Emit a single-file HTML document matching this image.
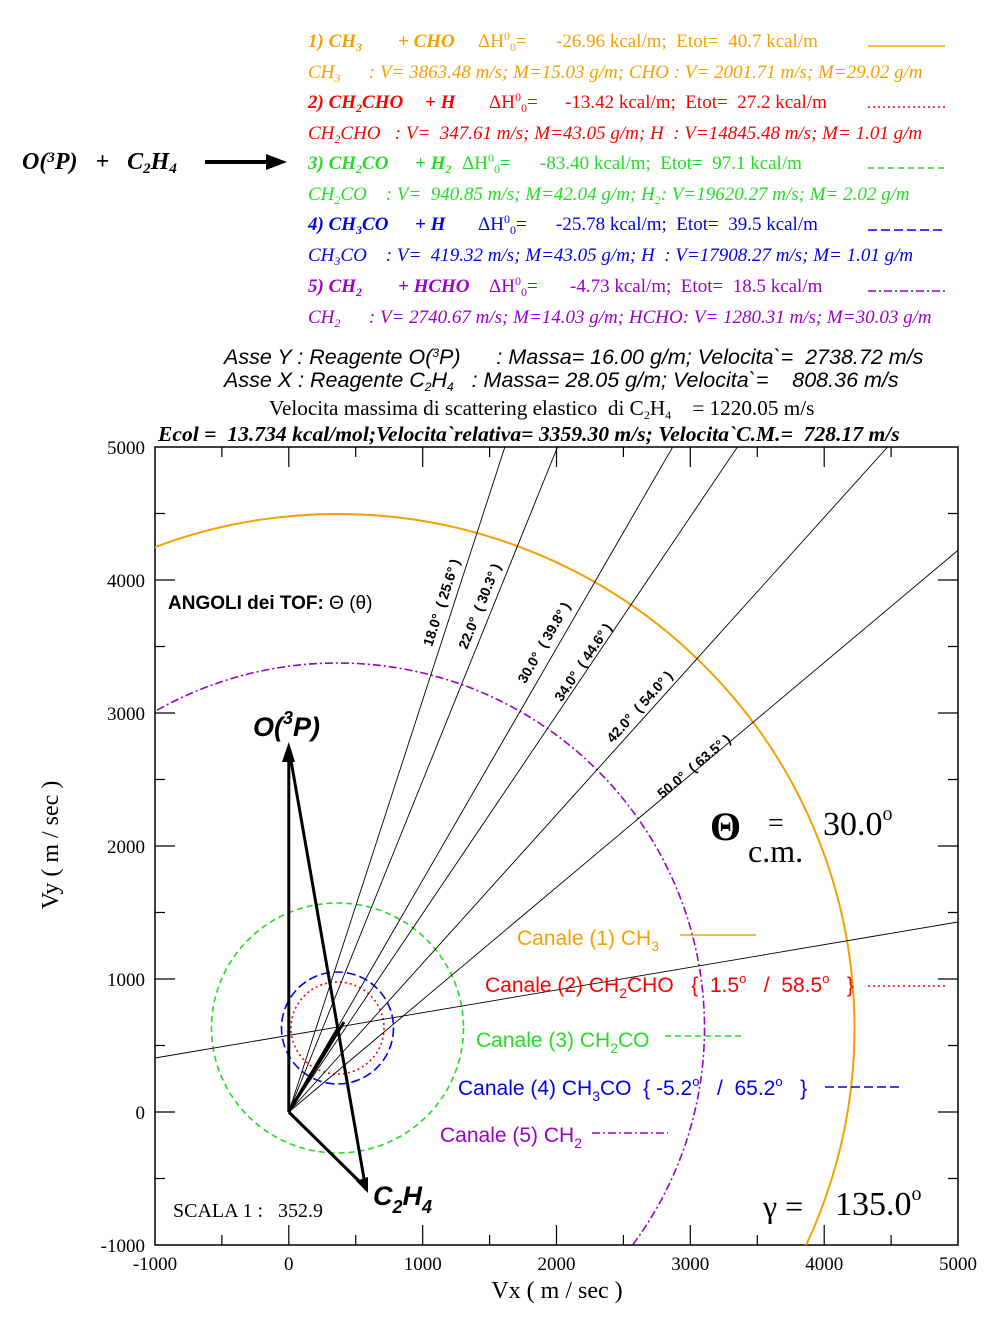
<!DOCTYPE html>
<html><head><meta charset="utf-8">
<style>
html,body{margin:0;background:#fff;width:1000px;height:1323px;overflow:hidden}
body{position:relative;font-family:"Liberation Serif",serif}
.t{position:absolute;font-style:italic;font-size:19px;white-space:nowrap;line-height:1}
.n{font-style:normal}
.b{font-weight:bold}
sub{font-size:12px;vertical-align:-4px;line-height:0}
sup{font-size:12px;vertical-align:7px;line-height:0}
.o{color:#f5a000}.r{color:#ff0000}.g{color:#22dd22}.bl{color:#0000ee}.p{color:#9900cc}
.s{position:absolute;white-space:nowrap;line-height:1;font-family:"Liberation Sans",sans-serif;font-style:italic;font-size:21.5px}
</style></head><body>
<div class="t b o" style="left:308px;top:32px">1) CH<sub>3</sub></div>
<div class="t b o" style="left:398px;top:32px">+ CHO</div>
<div class="t n o" style="left:478px;top:32px">ΔH<sup>0</sup><sub>0</sub>=</div>
<div class="t n o" style="left:556px;top:32px">-26.96 kcal/m;&nbsp; Etot=&nbsp; 40.7 kcal/m</div>
<div class="t o" style="left:308px;top:63px">CH<sub>3</sub>&nbsp;&nbsp;&nbsp;&nbsp;&nbsp;&nbsp;: V= 3863.48 m/s; M=15.03 g/m; CHO : V= 2001.71 m/s; M=29.02 g/m</div>
<div class="t b r" style="left:308px;top:93px">2) CH<sub>2</sub>CHO</div>
<div class="t b r" style="left:425px;top:93px">+ H</div>
<div class="t n r" style="left:489px;top:93px">ΔH<sup>0</sup><sub>0</sub>=</div>
<div class="t n r" style="left:565px;top:93px">-13.42 kcal/m;&nbsp; Etot=&nbsp; 27.2 kcal/m</div>
<div class="t r" style="left:308px;top:124px">CH<sub>2</sub>CHO&nbsp;&nbsp;&nbsp;: V=&nbsp; 347.61 m/s; M=43.05 g/m; H&nbsp;&nbsp;: V=14845.48 m/s; M= 1.01 g/m</div>
<div class="t b g" style="left:308px;top:154px">3) CH<sub>2</sub>CO</div>
<div class="t b g" style="left:415px;top:154px">+ H<sub>2</sub></div>
<div class="t n g" style="left:462px;top:154px">ΔH<sup>0</sup><sub>0</sub>=</div>
<div class="t n g" style="left:540px;top:154px">-83.40 kcal/m;&nbsp; Etot=&nbsp; 97.1 kcal/m</div>
<div class="t g" style="left:308px;top:185px">CH<sub>2</sub>CO&nbsp;&nbsp;&nbsp;&nbsp;: V=&nbsp; 940.85 m/s; M=42.04 g/m; H<sub>2</sub>: V=19620.27 m/s; M= 2.02 g/m</div>
<div class="t b bl" style="left:308px;top:215px">4) CH<sub>3</sub>CO</div>
<div class="t b bl" style="left:415px;top:215px">+ H</div>
<div class="t n bl" style="left:478px;top:215px">ΔH<sup>0</sup><sub>0</sub>=</div>
<div class="t n bl" style="left:556px;top:215px">-25.78 kcal/m;&nbsp; Etot=&nbsp; 39.5 kcal/m</div>
<div class="t bl" style="left:308px;top:246px">CH<sub>3</sub>CO&nbsp;&nbsp;&nbsp;&nbsp;: V=&nbsp; 419.32 m/s; M=43.05 g/m; H&nbsp;&nbsp;: V=17908.27 m/s; M= 1.01 g/m</div>
<div class="t b p" style="left:308px;top:277px">5) CH<sub>2</sub></div>
<div class="t b p" style="left:398px;top:277px">+ HCHO</div>
<div class="t n p" style="left:489px;top:277px">ΔH<sup>0</sup><sub>0</sub>=</div>
<div class="t n p" style="left:570px;top:277px">-4.73 kcal/m;&nbsp; Etot=&nbsp; 18.5 kcal/m</div>
<div class="t p" style="left:308px;top:308px">CH<sub>2</sub>&nbsp;&nbsp;&nbsp;&nbsp;&nbsp;&nbsp;: V= 2740.67 m/s; M=14.03 g/m; HCHO: V= 1280.31 m/s; M=30.03 g/m</div>

<div class="t b" style="left:22px;top:150px;font-size:24px">O(<sup style="font-size:15px">3</sup>P)&nbsp;&nbsp;&nbsp;+&nbsp;&nbsp;&nbsp;C<sub style="font-size:15px">2</sub>H<sub style="font-size:15px">4</sub></div>

<div class="s" style="left:224px;top:347px">Asse Y : Reagente O(<sup>3</sup>P)&nbsp;&nbsp;&nbsp;&nbsp;&nbsp;&nbsp;: Massa= 16.00 g/m; Velocita`=&nbsp; 2738.72 m/s</div>
<div class="s" style="left:224px;top:370px">Asse X : Reagente C<sub>2</sub>H<sub>4</sub>&nbsp;&nbsp;&nbsp;: Massa= 28.05 g/m; Velocita`=&nbsp;&nbsp;&nbsp; 808.36 m/s</div>
<div class="t n" style="left:269px;top:398px;font-size:21.2px">Velocita massima di scattering elastico&nbsp; di C<sub>2</sub>H<sub>4</sub>&nbsp;&nbsp;&nbsp; = 1220.05 m/s</div>
<div class="t b" style="left:158px;top:424px;font-size:21.6px">Ecol =&nbsp; 13.734 kcal/mol;Velocita`relativa= 3359.30 m/s; Velocita`C.M.=&nbsp; 728.17 m/s</div>

<svg width="1000" height="1323" style="position:absolute;left:0;top:0;display:block" font-family="Liberation Serif,serif">
<defs><clipPath id="c"><rect x="155" y="447" width="803" height="798"/></clipPath></defs>
<line x1="205" y1="162" x2="272" y2="162" stroke="#000" stroke-width="4"/>
<path d="M266,154 L287,162 L266,170 z"/>
<line x1="868" y1="46" x2="945" y2="46" stroke="#f5a000" stroke-width="1.5"/>
<line x1="868" y1="107" x2="945" y2="107" stroke="#f00" stroke-width="1.5" stroke-dasharray="2,3"/>
<line x1="868" y1="168" x2="945" y2="168" stroke="#22dd22" stroke-width="1.5" stroke-dasharray="6,4"/>
<line x1="868" y1="230" x2="945" y2="230" stroke="#00e" stroke-width="1.5" stroke-dasharray="9,4"/>
<line x1="868" y1="291" x2="945" y2="291" stroke="#90c" stroke-width="1.5" stroke-dasharray="8,3,2,3"/>
<rect x="155" y="447" width="803" height="798" fill="none" stroke="#000" stroke-width="1.5"/>
<g stroke="#000" stroke-width="1.2">
<path d="M288.8,1245v-20M422.7,1245v-20M556.5,1245v-20M690.3,1245v-20M824.2,1245v-20M288.8,447v20M422.7,447v20M556.5,447v20M690.3,447v20M824.2,447v20
M221.9,1245v-10M355.7,1245v-10M489.6,1245v-10M623.4,1245v-10M757.3,1245v-10M891.1,1245v-10M221.9,447v10M355.7,447v10M489.6,447v10M623.4,447v10M757.3,447v10M891.1,447v10
M155,1112h20M155,979h20M155,846h20M155,713h20M155,580h20M958,1112h-20M958,979h-20M958,846h-20M958,713h-20M958,580h-20
M155,1178.5h10M155,1045.5h10M155,912.5h10M155,779.5h10M155,646.5h10M155,513.5h10M958,1178.5h-10M958,1045.5h-10M958,912.5h-10M958,779.5h-10M958,646.5h-10M958,513.5h-10"/>
</g>
<g font-size="19" text-anchor="middle">
<text x="155" y="1270">-1000</text><text x="288.8" y="1270">0</text><text x="422.7" y="1270">1000</text><text x="556.5" y="1270">2000</text><text x="690.3" y="1270">3000</text><text x="824.2" y="1270">4000</text><text x="958" y="1270">5000</text>
</g>
<g font-size="19" text-anchor="end">
<text x="145" y="454">5000</text><text x="145" y="587">4000</text><text x="145" y="720">3000</text><text x="145" y="853">2000</text><text x="145" y="986">1000</text><text x="145" y="1119">0</text><text x="145" y="1252">-1000</text>
</g>
<text x="557" y="1298" font-size="24" text-anchor="middle">Vx ( m / sec )</text>
<text transform="translate(58,845) rotate(-90)" font-size="24" text-anchor="middle">Vy ( m / sec )</text>

<g clip-path="url(#c)" fill="none">
<ellipse cx="337.5" cy="1028" rx="517" ry="514" stroke="#f5a000" stroke-width="2"/>
<ellipse cx="337.5" cy="1028" rx="367" ry="365" stroke="#90c" stroke-width="1.6" stroke-dasharray="8,3,2,3"/>
<ellipse cx="337.5" cy="1028" rx="126" ry="125" stroke="#22dd22" stroke-width="1.6" stroke-dasharray="6,4"/>
<ellipse cx="337.5" cy="1028" rx="56" ry="56" stroke="#00e" stroke-width="1.6" stroke-dasharray="9,4"/>
<ellipse cx="337.5" cy="1028" rx="46.5" ry="46" stroke="#f00" stroke-width="1.6" stroke-dasharray="2,3"/>
<g stroke="#000" stroke-width="0.9">
<line x1="288.8" y1="1112" x2="504.9" y2="447"/>
<line x1="288.8" y1="1112" x2="557.5" y2="447"/>
<line x1="288.8" y1="1112" x2="672.7" y2="447"/>
<line x1="288.8" y1="1112" x2="737.4" y2="447"/>
<line x1="288.8" y1="1112" x2="887.6" y2="447"/>
<line x1="288.8" y1="1112" x2="1081" y2="447"/>
<line x1="155" y1="1058" x2="958" y2="922"/>
</g>
</g>
<g stroke="#000" stroke-width="3" fill="none">
<line x1="288.8" y1="1112" x2="288.8" y2="756"/>
<line x1="288.8" y1="1112" x2="362" y2="1184"/>
<line x1="288.8" y1="748" x2="366" y2="1190"/>
<line x1="288.8" y1="1112" x2="338" y2="1028"/>
<line x1="288.8" y1="1112" x2="344" y2="1022"/>
</g>
<path d="M282,762 L288.8,742 L295,762 z"/>
<path d="M356,1181 L368,1193 L368,1177 z"/>
<g font-family="Liberation Sans,sans-serif" font-weight="bold" font-style="italic" font-size="27">
<text x="253" y="736">O(<tspan font-size="18" dy="-12">3</tspan><tspan dy="12">P)</tspan></text>
<text x="373" y="1205">C<tspan font-size="18" dy="8">2</tspan><tspan dy="-8">H</tspan><tspan font-size="18" dy="8">4</tspan></text>
</g>
<text x="168" y="609" font-family="Liberation Sans,sans-serif" font-weight="bold" font-size="19">ANGOLI dei TOF: <tspan font-weight="normal">Θ (θ)</tspan></text>
<g font-family="Liberation Sans,sans-serif" font-weight="bold" font-size="14" text-anchor="middle">
<text transform="translate(446,604) rotate(-72)">18.0°&#160;&#160;( 25.6° )</text>
<text transform="translate(484,608) rotate(-68)">22.0°&#160;&#160;( 30.3° )</text>
<text transform="translate(548,645) rotate(-60)">30.0°&#160;&#160;( 39.8° )</text>
<text transform="translate(587,665) rotate(-56)">34.0°&#160;&#160;( 44.6° )</text>
<text transform="translate(643,710) rotate(-48)">42.0°&#160;&#160;( 54.0° )</text>
<text transform="translate(697,770) rotate(-40)">50.0°&#160;&#160;( 63.5° )</text>
</g>
<text x="710" y="840" font-size="40" font-weight="bold">Θ</text>
<text x="768" y="832" font-size="28">=</text>
<text x="823" y="835" font-size="34">30.0<tspan font-size="20" dy="-15">o</tspan></text>
<text x="748" y="862" font-size="32">c.m.</text>
<text x="763" y="1217" font-size="32">γ =</text>
<text x="835" y="1215" font-size="34">135.0<tspan font-size="20" dy="-15">o</tspan></text>
<text x="173" y="1217" font-size="20">SCALA 1 :&#160;&#160; 352.9</text>
<g font-family="Liberation Sans,sans-serif" font-size="21">
<text x="517" y="945" fill="#f5a000">Canale (1) CH<tspan font-size="14" dy="6">3</tspan></text>
<line x1="680" y1="935" x2="756" y2="935" stroke="#f5a000" stroke-width="1.5"/>
<text x="485" y="992" fill="#f00">Canale (2) CH<tspan font-size="14" dy="6">2</tspan><tspan dy="-6">CHO&#160;&#160; {&#160; 1.5</tspan><tspan font-size="13" dy="-9">o</tspan><tspan dy="9">&#160;&#160;&#160;/&#160; 58.5</tspan><tspan font-size="13" dy="-9">o</tspan><tspan dy="9">&#160;&#160; }</tspan></text>
<line x1="868" y1="986" x2="948" y2="986" stroke="#f00" stroke-width="1.5" stroke-dasharray="2,3"/>
<text x="476" y="1047" fill="#22dd22">Canale (3) CH<tspan font-size="14" dy="6">2</tspan><tspan dy="-6">CO</tspan></text>
<line x1="665" y1="1036" x2="742" y2="1036" stroke="#22dd22" stroke-width="1.5" stroke-dasharray="6,4"/>
<text x="458" y="1095" fill="#00e">Canale (4) CH<tspan font-size="14" dy="6">3</tspan><tspan dy="-6">CO&#160; { -5.2</tspan><tspan font-size="13" dy="-9">o</tspan><tspan dy="9">&#160;&#160;&#160;/&#160; 65.2</tspan><tspan font-size="13" dy="-9">o</tspan><tspan dy="9">&#160;&#160; }</tspan></text>
<line x1="825" y1="1087" x2="900" y2="1087" stroke="#00e" stroke-width="1.5" stroke-dasharray="9,4"/>
<text x="440" y="1142" fill="#90c">Canale (5) CH<tspan font-size="14" dy="6">2</tspan></text>
<line x1="592" y1="1133" x2="668" y2="1133" stroke="#90c" stroke-width="1.5" stroke-dasharray="8,3,2,3"/>
</g>
</svg>
</body></html>
